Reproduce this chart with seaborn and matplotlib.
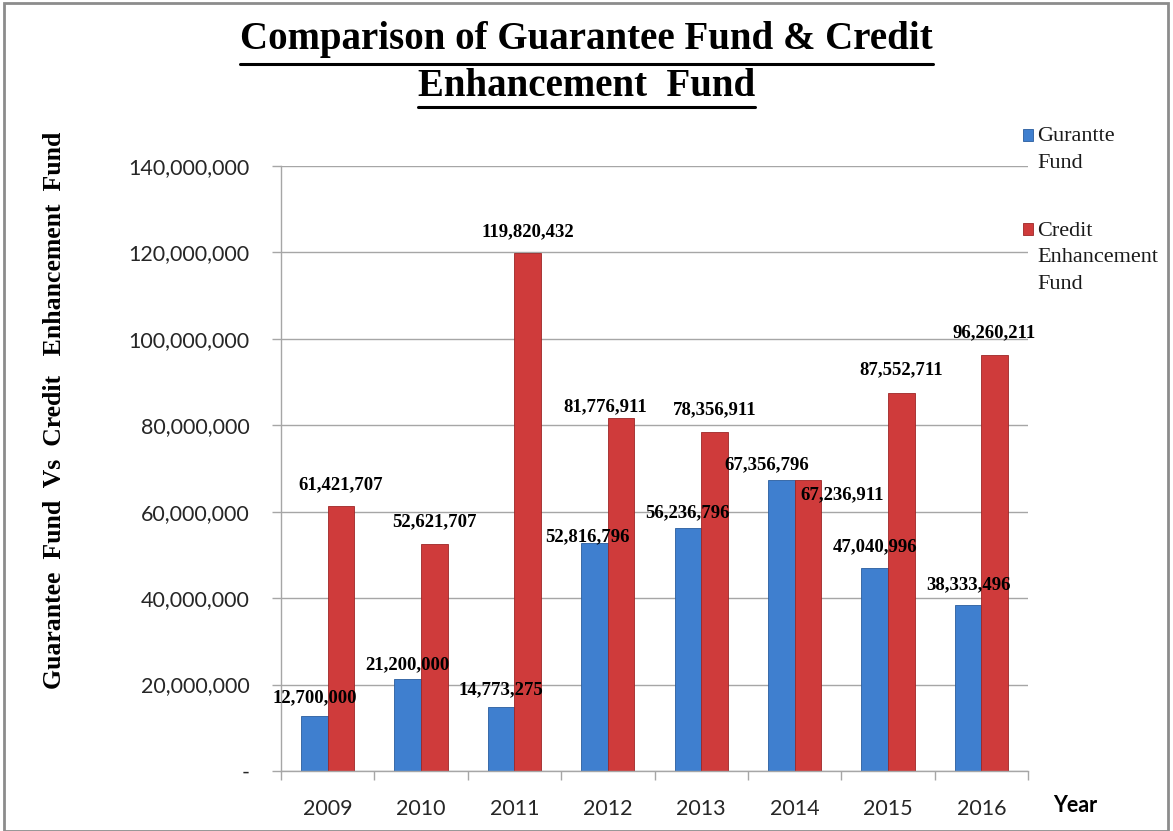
import matplotlib
matplotlib.use("Agg")
import matplotlib.pyplot as plt
from matplotlib.patches import Rectangle
from matplotlib.lines import Line2D
from matplotlib.legend_handler import HandlerPatch
import matplotlib.ticker as mticker
import seaborn as sns
import pandas as pd

# ---------------- data ----------------
years = ["2009", "2010", "2011", "2012", "2013", "2014", "2015", "2016"]
guarantee_fund = [12700000, 21200000, 14773275, 52816796, 56236796, 67356796, 47040996, 38333496]
credit_fund = [61421707, 52621707, 119820432, 81776911, 78356911, 67236911, 87552711, 96260211]
series_names = ["Gurantte\nFund", "Credit\nEnhancement\nFund"]
y_ticks = [0, 20000000, 40000000, 60000000, 80000000, 100000000, 120000000, 140000000]

# label offsets (pixels): dx, dy of label centre relative to bar top centre
guar_dx = [0, 0, 0, -7, 0, -15, 0, 0]
guar_dy = [18, 15, 17, 6, 15, 15, 21, 21]
cred_dx = [0, 0, 0, -16, 0, 34, 0, 0]
cred_dy = [21, 22, 21, 11, 23, -14, 23, 22]

df = pd.DataFrame({
    "Year": years * 2,
    "Value": guarantee_fund + credit_fund,
    "Series": [series_names[0]] * len(years) + [series_names[1]] * len(years),
})

BLUE = "#3f7fcf"
RED = "#cf3b3b"
BLUE_EDGE = "#2a5d9e"
RED_EDGE = "#9e2626"

sns.set_theme(style="white")
plt.rcParams["font.family"] = ["Lato", "DejaVu Sans"]

W, H = 1173, 831
fig = plt.figure(figsize=(W / 100, H / 100), dpi=100)
ax = fig.add_axes([281 / W, 1 - 771 / H, 747 / W, 605 / H])

sns.barplot(data=df, x="Year", y="Value", hue="Series", order=years,
            hue_order=series_names, palette=[BLUE, RED], width=0.57, gap=0,
            saturation=1, ax=ax, legend=False)

edge_cols = [BLUE_EDGE, RED_EDGE]
for ci, cont in enumerate(ax.containers):
    for p in cont:
        p.set_edgecolor(edge_cols[ci])
        p.set_linewidth(0.6)

ax.set_xlim(-0.5, len(years) - 0.5)
ax.set_ylim(0, 140000000)
ax.set_yticks(y_ticks)
ax.yaxis.set_major_formatter(mticker.FuncFormatter(lambda v, p: "-" if v == 0 else f"{int(v):,}"))
ax.yaxis.grid(True, color="#a6a6a6", linewidth=1.0)
ax.set_axisbelow(True)
for s in ["top", "right"]:
    ax.spines[s].set_visible(False)
for s in ["left", "bottom"]:
    ax.spines[s].set_color("#a6a6a6")
    ax.spines[s].set_linewidth(1.0)

ax.tick_params(axis="y", which="major", length=6.5, width=1, color="#a6a6a6",
               pad=16, labelsize=15.5, labelcolor="#262626", left=True)
ax.tick_params(axis="x", which="major", length=0, pad=20, labelsize=15.5,
               labelcolor="#262626")
ax.set_xticks(range(len(years)))
ax.set_xticks([i - 0.5 for i in range(len(years) + 1)], minor=True)
ax.tick_params(axis="x", which="minor", length=6.5, width=1, color="#a6a6a6", bottom=True)

ax.set_xlabel("")
ax.set_ylabel("Guarantee  Fund  Vs  Credit   Enhancement  Fund",
              fontfamily="Liberation Serif", fontweight="bold", fontsize=18.5, color="black")
ax.yaxis.set_label_coords((66 - 281) / 747, (771 - 410) / 605)

# value labels
offs = [(guar_dx, guar_dy), (cred_dx, cred_dy)]
for ci, cont in enumerate(ax.containers):
    dxs, dys = offs[ci]
    for i, p in enumerate(cont):
        xc = p.get_x() + p.get_width() / 2
        h = p.get_height()
        ax.annotate(f"{int(round(h)):,}", xy=(xc, h),
                    xytext=(dxs[i] * 0.72, dys[i] * 0.72), textcoords="offset points",
                    ha="center", va="center", fontsize=13.5, fontweight="bold",
                    fontfamily="Liberation Serif", color="black", zorder=5)

# legend: handle aligned with the first line of each (multi-line) label
LEG_FS = 16
LEG_LS = 1.55


class FirstLineHandler(HandlerPatch):
    def __init__(self, nlines, line_h, **kw):
        super().__init__(**kw)
        self.shift = (nlines - 1) / 2 * line_h

    def create_artists(self, legend, orig_handle, xdescent, ydescent, width, height,
                       fontsize, trans):
        r = Rectangle((-xdescent, -ydescent + self.shift), width, height,
                      facecolor=orig_handle.get_facecolor(),
                      edgecolor=orig_handle.get_edgecolor(), lw=0.6, transform=trans)
        return [r]


handles = [Rectangle((0, 0), 1, 1, facecolor=BLUE, edgecolor=BLUE_EDGE, lw=0.6),
           Rectangle((0, 0), 1, 1, facecolor=RED, edgecolor=RED_EDGE, lw=0.6)]
line_h_pts = 28 * 0.72
hmap = {h: FirstLineHandler(name.count("\n") + 1, line_h_pts)
        for h, name in zip(handles, series_names)}
leg = ax.legend(handles, series_names, loc="upper left", handler_map=hmap,
                bbox_to_anchor=(1023 / W, 1 - 127 / H), bbox_transform=fig.transFigure,
                frameon=False, handlelength=0.45, handleheight=0.45, handletextpad=0.2,
                borderpad=0, borderaxespad=0,
                labelspacing=2.2, prop={"family": "Liberation Serif", "size": LEG_FS})
for t in leg.get_texts():
    t.set_color("#1a1a1a")
    t.set_linespacing(LEG_LS)

# "Year"
fig.text(1075 / W, 1 - 806 / H, "Year", ha="center", va="center",
         fontsize=15.5, fontweight="bold", color="black")

# title (two lines, underlined)
t1 = fig.text(0.5, 1 - 40 / H, "Comparison of Guarantee Fund & Credit", ha="center",
              va="center", fontfamily="Liberation Serif", fontweight="bold", fontsize=28,
              color="black")
t2 = fig.text(0.5, 1 - 86 / H, "Enhancement  Fund", ha="center",
              va="center", fontfamily="Liberation Serif", fontweight="bold", fontsize=28,
              color="black")

fig.canvas.draw()
r = fig.canvas.get_renderer()
for t, yline in [(t1, 64), (t2, 107)]:
    bb = t.get_window_extent(r)
    fig.add_artist(Line2D([bb.x0 / W, bb.x1 / W], [1 - yline / H, 1 - yline / H],
                          transform=fig.transFigure, color="black", lw=2.2))

# outer frame
fig.add_artist(Rectangle((4 / W, 0), 1 - 9 / W, 1 - 3 / H, transform=fig.transFigure,
                         fill=False, edgecolor="#8c8c8c", lw=2))

fig.savefig("out.png", dpi=100)
